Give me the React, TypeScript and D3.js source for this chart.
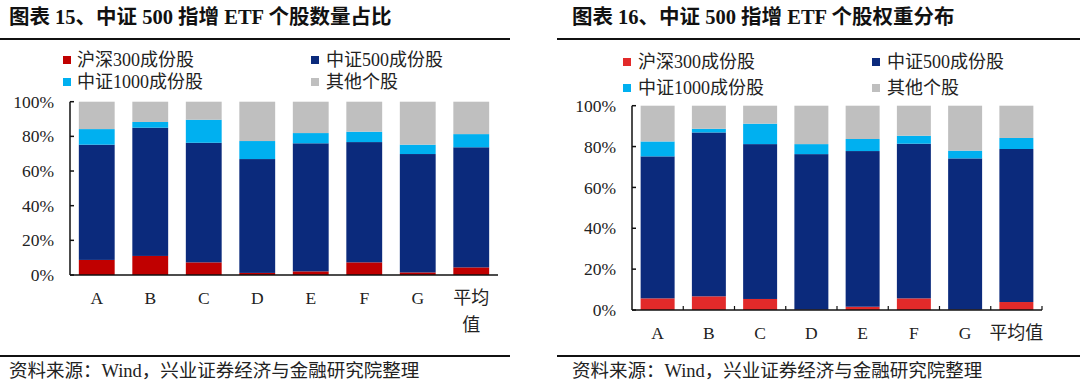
import React from 'react';
import * as d3 from 'd3';

// categories and stacked shares (percent)
const categories = ['A', 'B', 'C', 'D', 'E', 'F', 'G', '平均值'];
const seriesNames = ['沪深300成份股', '中证500成份股', '中证1000成份股', '其他个股'];

// chart 15: share of stock count
const hs300Count = [8.7, 11.0, 7.3, 1.2, 2.1, 7.3, 1.5, 4.4];
const zz500Count = [66.5, 74.0, 69.0, 65.7, 73.9, 69.4, 68.3, 69.3];
const zz1000Count = [9.0, 3.3, 13.3, 10.4, 5.9, 6.0, 5.4, 7.6];

// chart 16: share of weight
const hs300Weight = [5.7, 6.7, 5.4, 0.2, 1.6, 5.7, 0.2, 3.9];
const zz500Weight = [69.5, 80.2, 75.8, 76.1, 76.2, 75.7, 74.0, 74.9];
const zz1000Weight = [7.3, 1.8, 10.0, 4.9, 5.9, 3.9, 3.8, 5.4];

const yTickValues = [0, 20, 40, 60, 80, 100];

const keys = ['hs300', 'zz500', 'zz1000', 'other'];

const buildRows = (a: number[], b: number[], c: number[]) =>
  categories.map((cat, i) => ({
    cat,
    hs300: a[i],
    zz500: b[i],
    zz1000: c[i],
    other: Math.max(0, 100 - a[i] - b[i] - c[i]),
  }));

const serif = '"Liberation Serif", "Times New Roman", "Noto Sans CJK SC", serif';

interface PanelProps {
  title: string;
  rows: any[];
  colors: string[];
  xRange: [number, number];
  yRange: [number, number];
  padding: number;
  ruleX: [number, number];
  titleX: number;
  legendX: [number, number, number, number];
  legendY: [number, number];
  labelRight: number;
  wrapAvg: boolean;
  xTicks: boolean;
  xLabelY: number;
}

const Panel: React.FC<PanelProps> = (p) => {
  const x = d3
    .scaleBand<string>()
    .domain(categories)
    .range(p.xRange)
    .paddingInner(p.padding)
    .paddingOuter(p.padding / 2);
  const y = d3.scaleLinear().domain([0, 100]).range(p.yRange);
  const stacked = d3.stack<any>().keys(keys)(p.rows);
  const color = d3.scaleOrdinal<string, string>().domain(keys).range(p.colors);
  const step = x.step();

  return (
    <g>
      <text x={p.titleX} y={24} fontSize={20.5} fontWeight="bold" fontFamily={serif} fill="#111">
        {p.title}
      </text>
      <line x1={p.ruleX[0]} x2={p.ruleX[1]} y1={39} y2={39} stroke="#111" strokeWidth={2} />

      {/* legend */}
      {seriesNames.map((name, i) => {
        const lx = i % 2 === 0 ? p.legendX[0] : p.legendX[2];
        const tx = i % 2 === 0 ? p.legendX[1] : p.legendX[3];
        const ly = p.legendY[Math.floor(i / 2)];
        return (
          <g key={name}>
            <rect x={lx} y={ly - 4} width={8} height={8} fill={p.colors[i]} />
            <text x={tx} y={ly} dy="0.36em" fontSize={18} fontFamily={serif} fill="#222">
              {name}
            </text>
          </g>
        );
      })}

      {/* bars */}
      {stacked.map((layer) => (
        <g key={layer.key} fill={color(layer.key)}>
          {layer.map((d, i) => (
            <rect
              key={i}
              x={x(categories[i])}
              y={y(d[1])}
              width={x.bandwidth()}
              height={Math.max(0, y(d[0]) - y(d[1]))}
            />
          ))}
        </g>
      ))}

      {/* y axis */}
      <line x1={p.xRange[0]} x2={p.xRange[0]} y1={y(0)} y2={y(100)} stroke="#111" strokeWidth={1.5} />
      {yTickValues.map((t) => (
        <g key={t}>
          <line x1={p.xRange[0]} x2={p.xRange[0] + 4} y1={y(t)} y2={y(t)} stroke="#111" strokeWidth={1.5} />
          <text
            x={p.labelRight}
            y={y(t)}
            dy="0.35em"
            textAnchor="end"
            fontSize={17.5}
            fontFamily={serif}
            fill="#222"
          >
            {t}%
          </text>
        </g>
      ))}

      {/* x axis */}
      <line x1={p.xRange[0]} x2={p.xRange[1]} y1={y(0)} y2={y(0)} stroke="#111" strokeWidth={1.5} />
      {p.xTicks &&
        categories.map((c) => (
          <line
            key={c}
            x1={(x(c) as number) - (step * p.padding) / 2 + step}
            x2={(x(c) as number) - (step * p.padding) / 2 + step}
            y1={y(0)}
            y2={y(0) - 4}
            stroke="#111"
            strokeWidth={1.2}
          />
        ))}
      {categories.map((c) => {
        const cx = (x(c) as number) + x.bandwidth() / 2;
        if (p.wrapAvg && c.length > 2) {
          return (
            <text key={c} x={cx} y={p.xLabelY} dy="0.35em" textAnchor="middle" fontSize={18} fontFamily={serif} fill="#222">
              <tspan x={cx}>{c.slice(0, 2)}</tspan>
              <tspan x={cx} dy={27}>{c.slice(2)}</tspan>
            </text>
          );
        }
        return (
          <text key={c} x={cx} y={p.xLabelY} dy="0.35em" textAnchor="middle" fontSize={c.length > 1 ? 18 : 17.5} fontFamily={serif} fill="#222">
            {c}
          </text>
        );
      })}

      {/* source */}
      <line x1={p.ruleX[0]} x2={p.ruleX[1]} y1={356} y2={356} stroke="#111" strokeWidth={2} />
      <text x={p.titleX} y={371} dy="0.35em" fontSize={18.5} fontFamily={serif} fill="#222">
        资料来源：Wind，兴业证券经济与金融研究院整理
      </text>
    </g>
  );
};

export default function App() {
  const countRows = buildRows(hs300Count, zz500Count, zz1000Count);
  const weightRows = buildRows(hs300Weight, zz500Weight, zz1000Weight);
  return (
    <svg
      width={1080}
      height={387}
      style={{ position: 'absolute', left: 0, top: 0, background: '#fff' }}
    >
      <rect width={1080} height={387} fill="#fff" />
      <Panel
        title="图表 15、中证 500 指增 ETF 个股数量占比"
        rows={countRows}
        colors={['#C00000', '#0B2A7C', '#00B0F0', '#BFBFBF']}
        xRange={[70, 498]}
        yRange={[275, 101.7]}
        padding={0.33}
        ruleX={[0, 510]}
        titleX={9}
        legendX={[63, 77, 311, 326]}
        legendY={[60, 82]}
        labelRight={54}
        wrapAvg={true}
        xTicks={false}
        xLabelY={298}
      />
      <Panel
        title="图表 16、中证 500 指增 ETF 个股权重分布"
        rows={weightRows}
        colors={['#E22A2A', '#0B2A7C', '#00B0F0', '#BFBFBF']}
        xRange={[632, 1042]}
        yRange={[310, 105.7]}
        padding={0.337}
        ruleX={[557, 1080]}
        titleX={572}
        legendX={[623, 638, 872, 887]}
        legendY={[62, 88]}
        labelRight={616}
        wrapAvg={false}
        xTicks={true}
        xLabelY={333}
      />
    </svg>
  );
}
